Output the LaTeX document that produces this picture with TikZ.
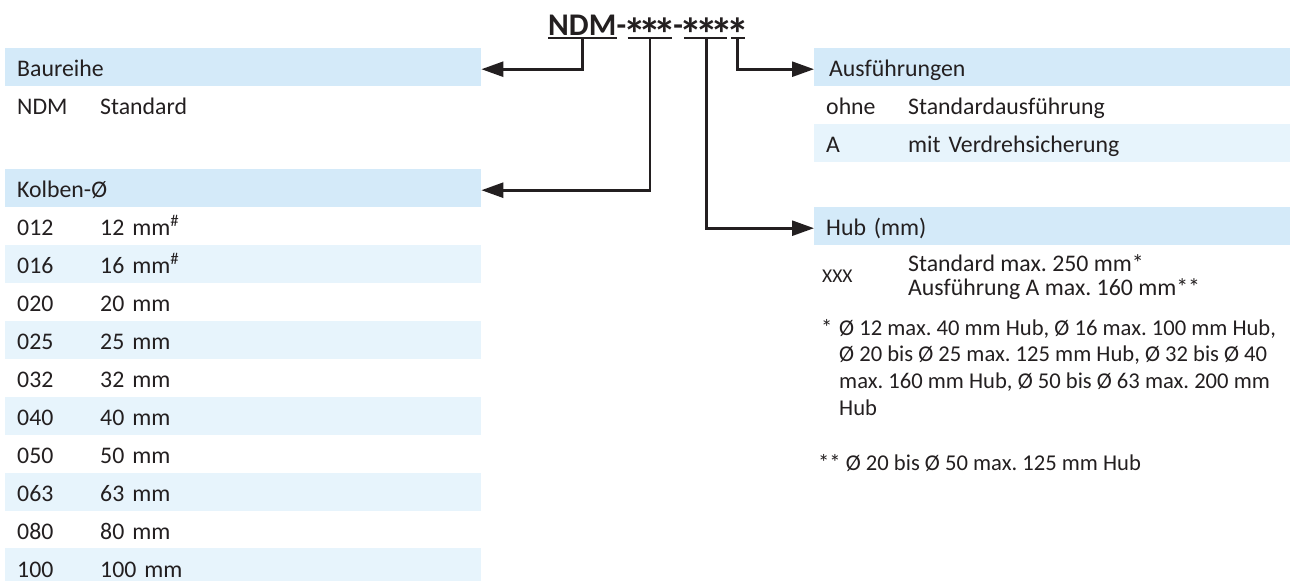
\documentclass[tikz,border=0pt]{standalone}
\usepackage{fontspec}
\usepackage{graphicx}
\setmainfont{Carlito}
\usetikzlibrary{arrows.meta}
\definecolor{hdrblue}{HTML}{D4EAF9}
\definecolor{stripe}{HTML}{E7F4FC}
\definecolor{ink}{HTML}{231F20}
\newcommand{\bigast}{\makebox[15.4pt]{\smash{\raisebox{-15pt}{\scalebox{1.45}{*}}}}}
\tikzset{
  basefont/.style={font=\fontsize{23.8}{27}\selectfont\frenchspacing, text=ink},
  notefont/.style={font=\fontsize{22.6}{26}\selectfont\frenchspacing, text=ink},
  band/.style={basefont, anchor=north west, minimum height=38pt, inner xsep=12pt, inner ysep=0pt,
               text width=452pt, align=left, text height=19.4pt, text depth=0pt},
  hdr/.style={band, fill=hdrblue},
  plainrow/.style={band},
  striperow/.style={band, fill=stripe},
  ttl/.style={font=\fontsize{31.5}{36}\selectfont\bfseries, text=ink, inner sep=0pt, anchor=base west},
  ul/.style={draw=ink, line width=2.6pt},
  conn/.style={draw=ink, line width=2.6pt, -{Triangle[length=22pt,width=15pt]}},
  txt/.style={basefont, inner sep=0pt, anchor=base west},
  note/.style={notefont, inner sep=0pt, anchor=base west},
}
\begin{document}
\frenchspacing
\begin{tikzpicture}[x=1pt,y=-1pt]
\useasboundingbox (0,0) rectangle (1296,581);

% left table
\node[hdr] (bau) at (5,48) {Baureihe};
\node[plainrow] (bauNDM) at (5,86) {\makebox[83pt][l]{NDM}Standard};
\node[hdr] (kol) at (5,169) {Kolben-Ø};
\node[plainrow]  (r012) at (5,207.0) {\makebox[83pt][l]{012}12 mm\textsuperscript{\#}};
\node[striperow] (r016) at (5,244.9) {\makebox[83pt][l]{016}16 mm\textsuperscript{\#}};
\node[plainrow]  (r020) at (5,282.8) {\makebox[83pt][l]{020}20 mm};
\node[striperow] (r025) at (5,320.7) {\makebox[83pt][l]{025}25 mm};
\node[plainrow]  (r032) at (5,358.6) {\makebox[83pt][l]{032}32 mm};
\node[striperow] (r040) at (5,396.5) {\makebox[83pt][l]{040}40 mm};
\node[plainrow]  (r050) at (5,434.4) {\makebox[83pt][l]{050}50 mm};
\node[striperow] (r063) at (5,472.3) {\makebox[83pt][l]{063}63 mm};
\node[plainrow]  (r080) at (5,510.2) {\makebox[83pt][l]{080}80 mm};
\node[striperow] (r100) at (5,548.1) {\makebox[83pt][l]{100}100 mm};

% right table
\node[hdr, inner xsep=15pt, text width=446pt] (aus) at (814,48) {Ausführungen};
\node[plainrow]  (ohne) at (814,86)  {\makebox[82pt][l]{ohne}Standardausführung};
\node[striperow] (ausA) at (814,124) {\makebox[82pt][l]{A}mit Verdrehsicherung};
\node[hdr] (hub) at (814,207) {Hub (mm)};
\node[txt, font=\fontsize{19.5}{22}\selectfont] (xxx) at (822,282) {XXX};
\node[txt] (std)  at (908,271.7) {Standard max. 250 mm*};
\node[txt] (ausf) at (908,295.5) {Ausführung A max. 160 mm**};
\node[note] (st1) at (821,335) {*};
\node[note] (f1) at (839,335)   {Ø 12 max. 40 mm Hub, Ø 16 max. 100 mm Hub,};
\node[note] (f2) at (839,361.7) {Ø 20 bis Ø 25 max. 125 mm Hub, Ø 32 bis Ø 40};
\node[note] (f3) at (839,388.3) {max. 160 mm Hub, Ø 50 bis Ø 63 max. 200 mm};
\node[note] (f4) at (839,415)   {Hub};
\node[note] (f5) at (818,470)   {** Ø 20 bis Ø 50 max. 125 mm Hub};

% title
\node[ttl] (ndm) at (548,35) {NDM};
\node[ttl] (d1) at (ndm.base east) {-};
\node[ttl] (g2) at (d1.base east) {\bigast\bigast\bigast};
\node[ttl] (d2) at (g2.base east) {-};
\node[ttl] (g3) at (d2.base east) {\bigast\bigast\bigast};
\node[ttl] (g4) at (g3.base east) {\bigast};

\draw[ul] ([yshift=-3pt]ndm.base west) -- ([yshift=-3pt]ndm.base east);
\draw[ul] ([xshift=1pt,yshift=-3pt]g2.base west) -- ([xshift=-1pt,yshift=-3pt]g2.base east);
\draw[ul] ([xshift=1pt,yshift=-3pt]g3.base west) -- ([xshift=-2.5pt,yshift=-3pt]g3.base east);
\draw[ul] ([xshift=1.5pt,yshift=-3pt]g4.base west) -- ([xshift=-1pt,yshift=-3pt]g4.base east);

% connectors
\draw[conn] ([yshift=-3pt]ndm.base) |- ([yshift=-2pt]bau.east);
\draw[conn] ([yshift=-3pt]g2.base) |- ([yshift=-2pt]kol.east);
\draw[conn] ([yshift=-3pt]g3.base) |- ([yshift=-2pt]hub.west);
\draw[conn] ([yshift=-3pt]g4.base) |- ([yshift=-2pt]aus.west);
\end{tikzpicture}
\end{document}
